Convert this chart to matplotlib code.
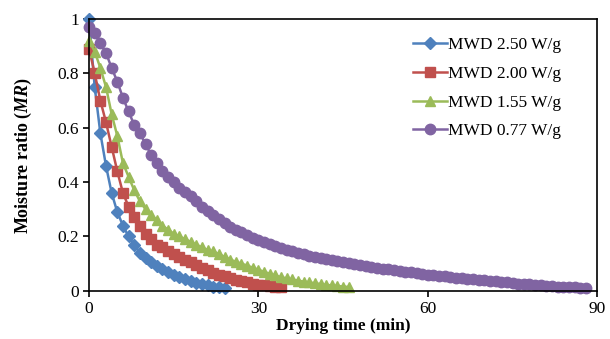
import matplotlib
matplotlib.use("Agg")
import matplotlib.pyplot as plt

plt.rcParams['font.family'] = ['Liberation Serif', 'DejaVu Serif']
plt.rcParams['mathtext.fontset'] = 'custom'
plt.rcParams['mathtext.it'] = 'Liberation Serif:bold:italic'

# moisture ratio readings, one per minute
mr_250 = [1.00, 0.75, 0.58, 0.46, 0.36, 0.29, 0.24, 0.20, 0.17, 0.14, 0.12, 0.105,
          0.092, 0.08, 0.07, 0.06, 0.05, 0.043, 0.036, 0.03, 0.025, 0.02, 0.016,
          0.013, 0.01]
mr_200 = [0.89, 0.80, 0.70, 0.62, 0.53, 0.44, 0.36, 0.31, 0.27, 0.24, 0.21, 0.19,
          0.17, 0.16, 0.145, 0.135, 0.125, 0.115, 0.105, 0.095, 0.085, 0.075, 0.066,
          0.06, 0.053, 0.047, 0.041, 0.036, 0.031, 0.027, 0.023, 0.02, 0.017, 0.015,
          0.013]
mr_155 = [0.92, 0.88, 0.82, 0.75, 0.65, 0.57, 0.47, 0.42, 0.37, 0.33, 0.30, 0.28,
          0.26, 0.24, 0.225, 0.21, 0.20, 0.19, 0.18, 0.17, 0.16, 0.15, 0.145, 0.135,
          0.125, 0.115, 0.107, 0.10, 0.093, 0.085, 0.078, 0.07, 0.063, 0.057, 0.05,
          0.046, 0.042, 0.038, 0.034, 0.031, 0.028, 0.025, 0.022, 0.02, 0.018, 0.016,
          0.014]
mr_077 = [0.97, 0.95, 0.91, 0.875, 0.82, 0.77, 0.71, 0.66, 0.61, 0.58, 0.54, 0.50,
          0.47, 0.44, 0.42, 0.40, 0.38, 0.365, 0.35, 0.33, 0.31, 0.295, 0.28, 0.265,
          0.25, 0.235, 0.225, 0.215, 0.205, 0.195, 0.187, 0.179, 0.172, 0.165, 0.158,
          0.152, 0.146, 0.14, 0.135, 0.13, 0.125, 0.121, 0.117, 0.113, 0.109, 0.105,
          0.101, 0.098, 0.094, 0.091, 0.088, 0.085, 0.082, 0.079, 0.076, 0.073, 0.070,
          0.068, 0.065, 0.062, 0.060, 0.058, 0.055, 0.053, 0.051, 0.049, 0.047, 0.045,
          0.043, 0.041, 0.039, 0.037, 0.035, 0.033, 0.031, 0.029, 0.027, 0.026, 0.024,
          0.022, 0.021, 0.019, 0.018, 0.016, 0.015, 0.014, 0.013, 0.012, 0.011]

series = [
    ('MWD 2.50 W/g', mr_250, '#4F81BD', 'D', 6),
    ('MWD 2.00 W/g', mr_200, '#C0504D', 's', 6.5),
    ('MWD 1.55 W/g', mr_155, '#9BBB59', '^', 7.5),
    ('MWD 0.77 W/g', mr_077, '#8064A2', 'o', 7.5),
]

fig = plt.figure(figsize=(6.1, 3.39), dpi=100)
ax = fig.add_axes([0.146, 0.142, 0.833, 0.802])

for label, mr, color, marker, ms in series:
    t = list(range(len(mr)))
    ax.plot(t, mr, color=color, marker=marker, markersize=ms, linewidth=1.8,
            label=label, clip_on=False)

ax.set_xlim(0, 90)
ax.set_ylim(0, 1)
ax.set_xticks([0, 30, 60, 90])
ax.set_yticks([0, 0.2, 0.4, 0.6, 0.8, 1.0])
ax.set_yticklabels(['0', '0.2', '0.4', '0.6', '0.8', '1'])
ax.tick_params(direction='out', length=4, width=1.2, labelsize=12.5, pad=3)
for s in ax.spines.values():
    s.set_linewidth(1.2)

ax.set_xlabel('Drying time (min)', fontsize=12.5, fontweight='bold', labelpad=1)
ax.set_ylabel(r'Moisture ratio ($\mathit{MR}$)', fontsize=13, fontweight='bold', labelpad=17)

ax.legend(loc='upper right', bbox_to_anchor=(0.96, 0.99), frameon=False,
          fontsize=12.5, labelspacing=0.72, handlelength=2.0, handletextpad=0.05)

fig.savefig('out.png', dpi=100)
